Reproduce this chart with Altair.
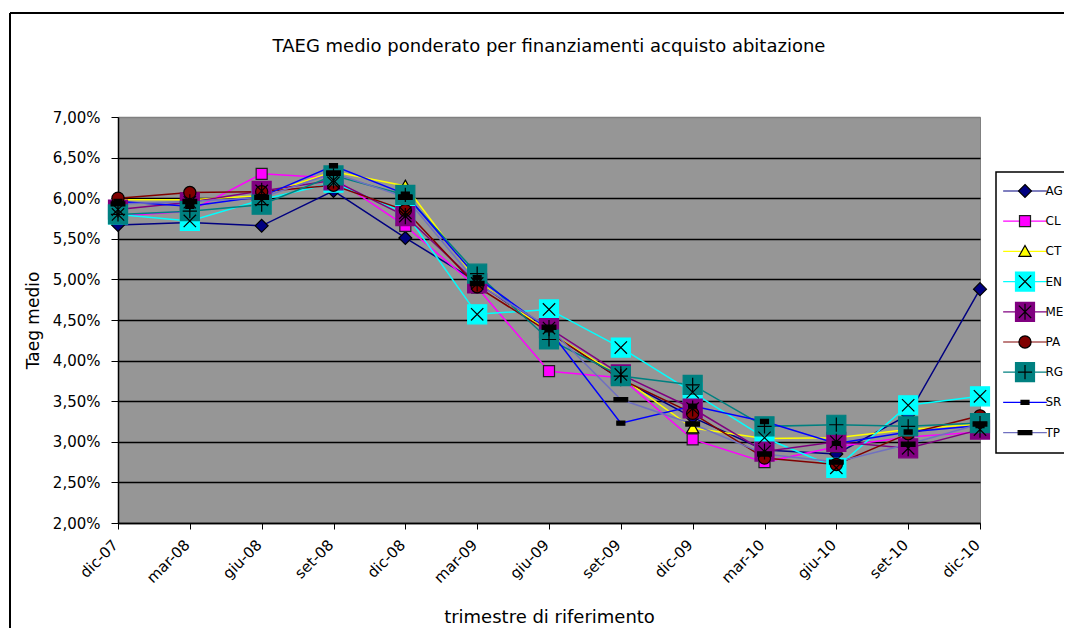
import altair as alt
import pandas as pd

FONT = "DejaVu Sans"

dates = ["dic-07", "mar-08", "giu-08", "set-08", "dic-08", "mar-09", "giu-09",
         "set-09", "dic-09", "mar-10", "giu-10", "set-10", "dic-10"]
series = ["AG", "CL", "CT", "EN", "ME", "PA", "RG", "SR", "TP"]

AG = [5.67, 5.70, 5.66, 6.09, 5.51, 4.97, 4.35, 3.77, 3.30, 2.90, 2.85, 3.33, 4.88]
CL = [5.78, 5.84, 6.30, 6.25, 5.66, 4.90, 3.87, 3.79, 3.03, 2.75, 2.94, 3.06, 3.12]
CT = [5.98, 5.98, 6.03, 6.33, 6.15, 4.98, 4.35, 3.80, 3.17, 3.04, 3.05, 3.15, 3.22]
EN = [5.80, 5.72, 5.98, 6.19, 5.82, 4.57, 4.63, 4.16, 3.61, 3.05, 2.68, 3.45, 3.56]
ME = [5.86, 5.95, 6.09, 6.22, 5.78, 4.95, 4.40, 3.83, 3.41, 2.88, 3.00, 2.92, 3.15]
PA = [6.00, 6.07, 6.08, 6.16, 5.85, 4.91, 4.35, 3.77, 3.35, 2.80, 2.72, 3.10, 3.32]
RG = [5.80, 5.84, 5.92, 6.28, 6.04, 5.07, 4.26, 3.81, 3.70, 3.19, 3.21, 3.19, 3.23]
SR = [5.96, 5.90, 6.02, 6.40, 6.05, 5.02, 4.38, 3.23, 3.44, 3.25, 2.98, 3.12, 3.20]
TP = [5.93, 5.96, 6.01, 6.31, 6.01, 4.95, 4.41, 3.52, 3.22, 2.85, 2.75, 2.97, 3.22]

y_ticks = [2.0, 2.5, 3.0, 3.5, 4.0, 4.5, 5.0, 5.5, 6.0, 6.5, 7.0]

line_colors = ["#000080", "#FF00FF", "#FFFF00", "#00FFFF", "#800080",
               "#800000", "#008080", "#0000FF", "#7070C0"]
marker_fill = ["#000080", "#FF00FF", "#FFFF00", "#00FFFF", "#800080",
               "#800000", "#008080", "#000000", "#000000"]
marker_stroke = ["#000000", "#202020", "#000000", "#00FFFF", "#800080",
                 "#000000", "#008080", "#000000", "#000000"]

# invisible moves that give every legend symbol the same bounding box
BOX = "M-2.4,-1M2.4,1"
SQ = "M-1,-1H1V1H-1Z"
marker_paths = [p + BOX for p in [
    "M0,-0.68L0.68,0L0,0.68L-0.68,0Z",
    "M-0.58,-0.58H0.58V0.58H-0.58Z",
    "M0,-0.62L0.64,0.52H-0.64Z",
    SQ, SQ,
    "M0.64,0A0.64,0.64,0,1,1,-0.64,0A0.64,0.64,0,1,1,0.64,0Z",
    SQ,
    "M-0.42,-0.22H0.42V0.22H-0.42Z",
    "M-0.72,-0.22H0.72V0.22H-0.72Z",
]]
EMPTY = "M0,0"
glyph_paths = [p + BOX for p in [
    EMPTY, EMPTY, EMPTY,
    "M-0.65,-0.65L0.65,0.65M-0.65,0.65L0.65,-0.65",
    "M-0.65,-0.65L0.65,0.65M-0.65,0.65L0.65,-0.65M0,-0.85V0.85",
    EMPTY,
    "M0,-0.75V0.75M-0.75,0H0.75",
    EMPTY, EMPTY,
]]
LINE_SYM = "M-2.3,0H2.3" + BOX

vals = {"AG": AG, "CL": CL, "CT": CT, "EN": EN, "ME": ME,
        "PA": PA, "RG": RG, "SR": SR, "TP": TP}
rows = []
for s in series:
    for d, v in zip(dates, vals[s]):
        rows.append({"date": d, "series": s, "s2": s, "s3": s, "value": v})
df = pd.DataFrame(rows)

PW, PH = 862, 406
PAD_L, PAD_T = 110, 109
W, H = 1056, 620
LX, LY = 878, 55

common_leg = dict(orient="none", legendX=LX, legendY=LY, direction="vertical",
                  title=None, symbolSize=361, symbolStrokeWidth=1.2,
                  labelFont=FONT, labelFontSize=12, labelOffset=10,
                  rowPadding=5.2, padding=8.5, symbolOffset=10)

x_enc = alt.X("date:O", sort=dates, scale=alt.Scale(type="point", padding=0),
              axis=alt.Axis(title="trimestre di riferimento", titleFont=FONT,
                            titleFontSize=18, titleFontWeight="normal",
                            titleX=PW / 2, titleY=94, titleBaseline="middle",
                            labelAngle=315, labelAlign="right",
                            labelBaseline="middle", labelFont=FONT,
                            labelFontSize=15, labelPadding=13, labelOffset=-3,
                            tickSize=6, tickColor="black", domainColor="black",
                            domainWidth=1.5, labelColor="black",
                            labelOverlap=False, grid=False))
y_enc = alt.Y("value:Q", scale=alt.Scale(domain=[2, 7], nice=False, zero=False),
              axis=alt.Axis(title="Taeg medio", titleFont=FONT, titleFontSize=17,
                            titleFontWeight="normal", titleX=-85, titleY=PH / 2,
                            titleBaseline="middle", titleAngle=270,
                            values=y_ticks,
                            labelExpr="replace(format(datum.value, '.2f'), '.', ',') + '%'",
                            labelFont=FONT, labelFontSize=15, labelPadding=11,
                            labelColor="black", tickSize=7, tickColor="black",
                            domainColor="black", domainWidth=1.5,
                            grid=True, gridWidth=1.3,
                            gridColor={"condition": {"test": "datum.value >= 7",
                                                     "value": "#808080"},
                                       "value": "black"}))

lines = alt.Chart(df).mark_line(strokeWidth=1.5).encode(
    x=x_enc, y=y_enc,
    color=alt.Color("series:N", scale=alt.Scale(domain=series, range=line_colors),
                    legend=alt.Legend(symbolType=LINE_SYM, strokeColor="black",
                                      fillColor="white", labelColor="black",
                                      zindex=1, **common_leg)),
)

mleg = alt.Legend(labelOpacity=0, zindex=2, **common_leg)
markers = alt.Chart(df).mark_point(filled=True, size=361, opacity=1, strokeWidth=1.2).encode(
    x=alt.X("date:O", sort=dates), y="value:Q",
    fill=alt.Fill("s2:N", scale=alt.Scale(domain=series, range=marker_fill), legend=mleg),
    stroke=alt.Stroke("s2:N", scale=alt.Scale(domain=series, range=marker_stroke), legend=mleg),
    shape=alt.Shape("s2:N", scale=alt.Scale(domain=series, range=marker_paths), legend=mleg),
)

gleg = alt.Legend(labelOpacity=0, zindex=3, symbolStrokeColor="black",
                  symbolFillColor="transparent", **common_leg)
glyphs = alt.Chart(df).mark_point(filled=False, size=361, color="black",
                                  opacity=1, strokeWidth=1.2).encode(
    x=alt.X("date:O", sort=dates), y="value:Q",
    shape=alt.Shape("s3:N", scale=alt.Scale(domain=series, range=glyph_paths), legend=gleg),
)

frame_src = alt.Data(values=[{}])
frame_left = alt.Chart(frame_src).mark_rule(color="black", strokeWidth=2).encode(
    x=alt.value(-108), y=alt.value(-104), y2=alt.value(H - PAD_T + 10))
frame_top = alt.Chart(frame_src).mark_rule(color="black", strokeWidth=2).encode(
    x=alt.value(-108), x2=alt.value(W - PAD_L + 10), y=alt.value(-104))

chart = alt.layer(frame_left, frame_top, lines, markers, glyphs).resolve_scale(
    shape="independent", fill="independent", stroke="independent"
).properties(
    width=PW, height=PH,
    title=alt.TitleParams("TAEG medio ponderato per finanziamenti acquisto abitazione",
                          font=FONT, fontSize=18, fontWeight="normal", color="black",
                          anchor="middle", frame="group", baseline="alphabetic",
                          offset=-58),
    autosize=alt.AutoSizeParams(type="none"),
    padding={"left": PAD_L, "top": PAD_T, "right": W - PAD_L - PW, "bottom": H - PAD_T - PH},
    background="white",
).configure_view(fill="#969696", stroke="#808080", strokeWidth=1
).configure_legend(strokeWidth=1.5)

chart.save("out.html", embed_options={"renderer": "svg", "actions": False})
